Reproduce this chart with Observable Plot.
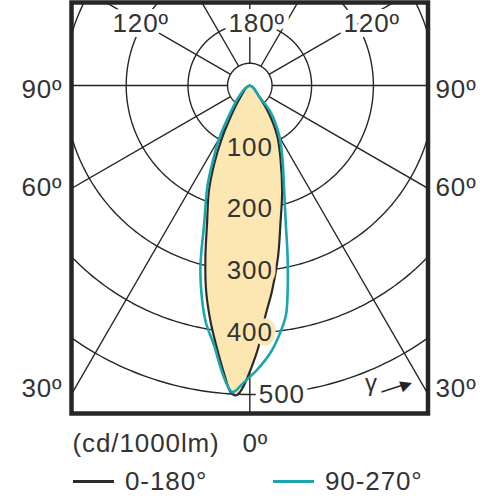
<!DOCTYPE html>
<html>
<head>
<meta charset="utf-8">
<script src="https://cdn.jsdelivr.net/npm/d3@7"></script>
<script src="https://cdn.jsdelivr.net/npm/@observablehq/plot@0.6"></script>
<style>
  body { margin: 0; background: #fff; }
  #chart { position: relative; width: 497px; height: 500px; font-family: "Liberation Sans", Arial, sans-serif; color: #333; }
  #chart svg { position: absolute; left: 0; top: 0; }
  .sw { position: absolute; height: 3px; width: 41px; top: 480px; }
  .lt { position: absolute; top: 466px; font-size: 26px; line-height: 30px; letter-spacing: 0.9px; white-space: nowrap; }
</style>
</head>
<body>
<div id="chart"></div>
<script>
// ---------- data ----------
const ringValues = [100, 200, 300, 400, 500];
const spokeAngles = [-180, -150, -120, -90, -60, -30, 0, 30, 60, 90, 120, 150];

// C0-C180 plane (signed gamma, negative = left half), path order
const plane0180Angles = [-90, -60, -37, -30.7, -27.6, -24.6, -21.3, -17.2, -14.5, -12.0, -9.4, -7.1, -5.2, -3.6, -2.6, -1.8, -1.1, 0.5, 2.0, 3.9, 6.2, 9.3, 12.5, 17.1, 22.8, 28.7, 34.7, 40, 60, 90];
const plane0180Values = [0, 6, 30, 66, 100, 137, 182, 234, 287, 340, 388, 429, 466, 497, 502, 496, 485, 453, 421, 373, 334, 282, 229, 178, 128, 92, 53, 24, 6, 0];

// C90-C270 plane
const plane90270Angles = [-90, -60, -42.8, -33.8, -29.9, -25.9, -22.9, -18.3, -15.2, -12.5, -10.5, -7.8, -5.8, -4.25, -3.2, -1.1, 1.6, 4.5, 6.7, 8.9, 9.9, 12.4, 14.6, 18.1, 24.0, 30.4, 38, 40, 60, 90];
const plane90270Values = [0, 8, 29, 65, 100, 138, 176, 235, 305, 356, 390, 425, 461, 487, 497, 480, 459, 433, 407, 377, 353, 285, 231, 179, 130, 94, 55, 24, 6, 0];

const topLabels = ["120º", "180º", "120º"];
const sideLabels = ["90º", "60º", "30º"];
const unitLabel = "(cd/1000lm)";
const zeroLabel = "0º";
const gammaLabel = "γ";
const seriesNames = ["0-180°", "90-270°"];

// ---------- styling / layout ----------
const seriesColors = ["#2b2b2b", "#1ba6ae"];
const fillColor = "#fce7b2";
const gridColor = "#262626";
const textColor = "#333";
const W = 497, H = 460;
const S = 0.618;             // px per cd/klm
const CX = 249.3, CY = 85;   // pole in px
const frameL = 71, frameR = 427.5, frameT = 2, frameB = 413;
const px = p => (p - CX) / S;
const py = p => (p - CY) / S;
const rad = d => d * Math.PI / 180;
const polar = (g, r) => ({x: r * Math.sin(rad(g)), y: r * Math.cos(rad(g))});

const ringPts = ringValues.flatMap(R => d3.range(0, 361, 1).map(a => ({ring: R, ...polar(a, R)})));
const hubR = 36;
const hubPts = d3.range(0, 361, 2).map(a => polar(a, hubR));
const spokes = spokeAngles.map(g => {
  const a = polar(g, hubR), b = polar(g, 1200);
  return {x1: a.x, y1: a.y, x2: b.x, y2: b.y};
});
const curve0180 = d3.zip(plane0180Angles, plane0180Values).map(([g, v]) => polar(g, v));
const curve90270 = d3.zip(plane90270Angles, plane90270Values).map(([g, v]) => polar(g, v));

const topPos = [{px: 112, py: 23}, {px: 228, py: 23}, {px: 343, py: 23}];
const sideY = [89, 187.5, 388];
const topData = topLabels.map((t, i) => ({t, x: px(topPos[i].px), y: py(topPos[i].py)}));
const sideLeft = sideLabels.map((t, i) => ({t, x: px(62), y: py(sideY[i])}));
const sideRight = sideLabels.map((t, i) => ({t, x: px(435), y: py(sideY[i])}));

const FS = 26;
const chart = Plot.plot({
  width: W, height: H,
  marginLeft: frameL, marginRight: W - frameR, marginTop: frameT, marginBottom: H - frameB,
  x: {domain: [px(frameL), px(frameR)], axis: null},
  y: {domain: [py(frameT), py(frameB)], reverse: true, axis: null},
  style: {fontFamily: '"Liberation Sans", Arial, sans-serif', letterSpacing: "0.9px", background: "white", color: textColor, overflow: "visible"},
  marks: [
    Plot.line(ringPts, {x: "x", y: "y", z: "ring", stroke: gridColor, strokeWidth: 1.4, clip: true}),
    Plot.line(hubPts, {x: "x", y: "y", stroke: gridColor, strokeWidth: 1.4}),
    Plot.link(spokes, {x1: "x1", y1: "y1", x2: "x2", y2: "y2", stroke: gridColor, strokeWidth: 1.4, clip: true}),
    Plot.line(curve0180, {x: "x", y: "y", fill: fillColor, stroke: "none", curve: "catmull-rom"}),
    Plot.line(curve0180, {x: "x", y: "y", stroke: seriesColors[0], strokeWidth: 2.2, curve: "catmull-rom"}),
    Plot.line(curve90270, {x: "x", y: "y", stroke: seriesColors[1], strokeWidth: 2.6, curve: "catmull-rom"}),
    // ring labels
    Plot.text(ringValues.filter(v => v < 500), {x: 0, y: d => d, text: d => String(d), fontSize: FS, fill: textColor, stroke: fillColor, strokeWidth: 9, paintOrder: "stroke"}),
    Plot.text(ringValues.filter(v => v >= 500), {x: 0, y: d => d, text: d => String(d), dx: 9, textAnchor: "start", fontSize: FS, fill: textColor, stroke: "white", strokeWidth: 9, paintOrder: "stroke"}),
    // angle labels
    Plot.text(topData, {x: "x", y: "y", text: "t", textAnchor: "start", fontSize: FS, fill: textColor, stroke: "white", strokeWidth: 10, paintOrder: "stroke"}),
    Plot.text(sideLeft, {x: "x", y: "y", text: "t", textAnchor: "end", fontSize: FS, fill: textColor}),
    Plot.text(sideRight, {x: "x", y: "y", text: "t", textAnchor: "start", fontSize: FS, fill: textColor}),
    // gamma arrow
    Plot.text([gammaLabel], {x: px(371), y: py(383), text: d => d, fontSize: 24, fill: textColor}),
    Plot.link([0], {x1: px(381), y1: py(391.5), x2: px(404), y2: py(384), stroke: gridColor, strokeWidth: 1.4}),
    Plot.text(["▶"], {x: px(406), y: py(383.5), text: d => d, rotate: -19, fontSize: 15, fontFamily: "DejaVu Sans", fill: gridColor}),
    // unit and 0º
    Plot.text([unitLabel], {x: px(72), y: py(443), text: d => d, textAnchor: "start", fontSize: FS, fill: textColor}),
    Plot.text([zeroLabel], {x: px(242), y: py(443), text: d => d, textAnchor: "start", fontSize: FS, fill: textColor}),
    Plot.frame({stroke: gridColor, strokeWidth: 4.5})
  ]
});
const root = document.getElementById("chart");
root.appendChild(chart);

// legend
const legendPos = [{sw: 73, tx: 125}, {sw: 273, tx: 325}];
seriesNames.forEach((name, i) => {
  const sw = document.createElement("div");
  sw.className = "sw";
  sw.style.left = legendPos[i].sw + "px";
  sw.style.background = seriesColors[i];
  root.appendChild(sw);
  const t = document.createElement("div");
  t.className = "lt";
  t.style.left = legendPos[i].tx + "px";
  t.textContent = name;
  root.appendChild(t);
});
</script>
</body>
</html>
